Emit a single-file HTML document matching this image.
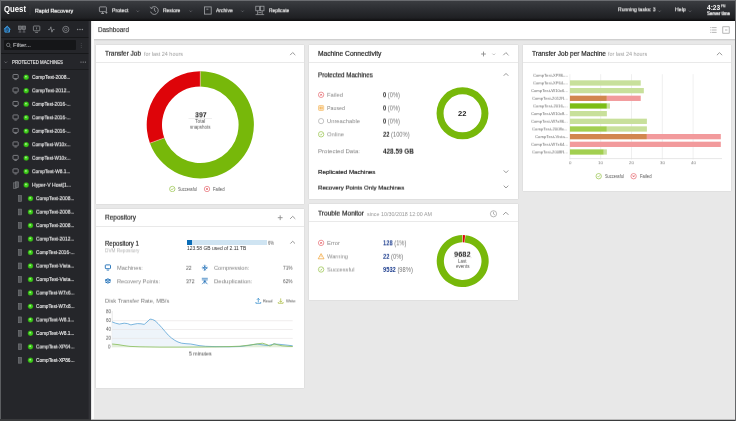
<!DOCTYPE html>
<html lang="en"><head><meta charset="utf-8"><title>Rapid Recovery Dashboard</title>
<style>
html,body{margin:0;padding:0;}
body{width:736px;height:421px;overflow:hidden;background:#e8e8e8;font-family:"Liberation Sans",sans-serif;position:relative;}
.t{filter:blur(0.25px);position:absolute;white-space:nowrap;line-height:1;transform-origin:0 50%;}
.card{background:#fff;box-shadow:0 0 1.2px rgba(0,0,0,0.16);}
.hd{border-bottom:1px solid #e9e9e9;box-sizing:border-box;}
svg{overflow:visible;filter:blur(0.2px);}
</style></head>
<body>
<header style="position:absolute;left:0px;top:0px;width:736px;height:21px;background:linear-gradient(#3c3e42,#2d2f33 40%,#1f2023 85%,#0d0d0e);"><div style="position:absolute;left:0px;top:0px;width:736px;height:1px;background:#6a6c70;"></div><div style="position:absolute;left:0px;top:0px;width:1px;height:21px;background:#66686c;"></div><span class="t" style="left:617.9px;top:7px;font-size:5.5px;color:#f2f2f2;transform:translateY(0.35px) rotate(0.03deg) scaleX(0.918);-webkit-text-stroke:0.14px;">Running tasks: 3</span><span class="t" style="left:674.9px;top:7px;font-size:5.5px;color:#f2f2f2;transform:translateY(0.35px) rotate(0.03deg) scaleX(0.946);-webkit-text-stroke:0.14px;">Help</span><span class="t" style="left:706.8px;top:4px;font-size:6.7px;color:#fff;transform:translateY(0.95px) rotate(0.03deg) scaleX(0.984);font-weight:bold;">4:23</span><span class="t" style="left:721px;top:5px;font-size:3.1px;color:#fff;transform:translateY(0.35px) rotate(0.03deg) scaleX(0.946);font-weight:bold;">PM</span><span class="t" style="left:706.5px;top:12px;font-size:4.7px;color:#fff;transform:translateY(0.25px) rotate(0.03deg) scaleX(0.957);-webkit-text-stroke:0.2px;">Server time</span><span class="t" style="left:34.5px;top:7px;font-size:6.2px;color:#fff;transform:translateY(0.7px) rotate(0.03deg) scaleX(0.866);-webkit-text-stroke:0.2px;">Rapid Recovery</span><span class="t" style="left:111.5px;top:8px;font-size:5.6px;color:#f2f2f2;transform:translateY(0.3px) rotate(0.03deg) scaleX(0.93);-webkit-text-stroke:0.14px;">Protect</span><span class="t" style="left:163.2px;top:8px;font-size:5.6px;color:#f2f2f2;transform:translateY(0.3px) rotate(0.03deg) scaleX(0.887);-webkit-text-stroke:0.14px;">Restore</span><span class="t" style="left:215.6px;top:8px;font-size:5.6px;color:#f2f2f2;transform:translateY(0.3px) rotate(0.03deg) scaleX(0.894);-webkit-text-stroke:0.14px;">Archive</span><span class="t" style="left:268.5px;top:8px;font-size:5.6px;color:#f2f2f2;transform:translateY(0.3px) rotate(0.03deg) scaleX(0.87);-webkit-text-stroke:0.14px;">Replicate</span><span class="t" style="left:3.9px;top:6px;font-size:8.2px;color:#fff;transform:translateY(0px) rotate(0.03deg) scaleX(0.947);font-weight:bold;">Quest</span><svg style="position:absolute;left:0px;top:0px" width="736" height="21" viewBox="0 0 736 21"><path d="M136.65 10.62L137.8 11.77L138.95 10.62" fill="none" stroke="#74767a" stroke-width="0.7"/><path d="M189.55 10.62L190.7 11.77L191.85 10.62" fill="none" stroke="#74767a" stroke-width="0.7"/><path d="M241.35 10.62L242.5 11.77L243.65 10.62" fill="none" stroke="#74767a" stroke-width="0.7"/><path d="M658.35 10.62L659.5 11.77L660.65 10.62" fill="none" stroke="#74767a" stroke-width="0.7"/><path d="M688.85 10.62L690 11.77L691.15 10.62" fill="none" stroke="#74767a" stroke-width="0.7"/><path d="M30 6V15" stroke="#3a3b3e" stroke-width="0.6"/><g fill="none" stroke="#a9abae" stroke-width="0.8"><rect x="99.4" y="6.9" width="7" height="4.8" rx="0.6"/><path d="M101.2 13.5H104M102.6 11.7V13.5M105.4 12.6H107.4M106.4 11.6V13.6"/></g><g fill="none" stroke="#a6a8ac" stroke-width="0.8"><path d="M151.2 8.2A3.9 3.9 0 1 1 150.6 11.6"/><path d="M154.4 8V10.6L156 11.6"/><path d="M150 6.8L151.1 8.6L153 7.8" stroke-width="0.6"/></g><g fill="none" stroke="#a6a8ac" stroke-width="0.8"><rect x="204.4" y="6.9" width="6.8" height="7.2"/><path d="M206.4 9.2H208.4"/></g><g fill="none" stroke="#a6a8ac" stroke-width="0.7"><rect x="255.8" y="6.2" width="3.6" height="4.6"/><rect x="260.4" y="6.2" width="3.6" height="4.6"/><path d="M257.6 10.8V14.6M262.2 10.8V14.6M255.6 14.6H264.2M258.4 12.6H261.4"/></g></svg></header>
<aside style="position:absolute;left:0px;top:21px;width:91px;height:400px;background:#25262a;box-shadow:inset 1px 0 0 #5c5e61;"><div style="position:absolute;left:1px;top:0px;width:90px;height:17px;background:#232428;border-bottom:1px solid #17181a;box-sizing:border-box;"></div><div style="position:absolute;left:4px;top:18.6px;width:72px;height:10.6px;background:#151618;border-radius:1px;"></div><span class="t" style="left:12.6px;top:21px;font-size:5.7px;color:#b4b5b8;transform:translateY(0.95px) rotate(0.03deg) scaleX(1.052);-webkit-text-stroke:0.14px;">Filter...</span><div style="position:absolute;left:1px;top:31.6px;width:89px;height:0.8px;background:#17181a;"></div><div style="position:absolute;left:1px;top:47.6px;width:88px;height:0.8px;background:#1b1c1e;"></div><span class="t" style="left:11.5px;top:39px;font-size:5.3px;color:#e8e8e8;transform:translateY(0.05px) rotate(0.03deg) scaleX(0.821);-webkit-text-stroke:0.14px;">PROTECTED MACHINES</span><span class="t" style="left:32px;top:53px;font-size:5.6px;color:#f0f0f0;transform:translateY(0.9px) rotate(0.03deg) scaleX(0.871);-webkit-text-stroke:0.12px;">CompTest-2008...</span><span class="t" style="left:32px;top:67px;font-size:5.6px;color:#f0f0f0;transform:translateY(0.38px) rotate(0.03deg) scaleX(0.871);-webkit-text-stroke:0.12px;">CompTest-2012...</span><span class="t" style="left:32px;top:80px;font-size:5.6px;color:#f0f0f0;transform:translateY(0.86px) rotate(0.03deg) scaleX(0.836);-webkit-text-stroke:0.12px;">CompTest-2016-...</span><span class="t" style="left:32px;top:94px;font-size:5.6px;color:#f0f0f0;transform:translateY(0.34px) rotate(0.03deg) scaleX(0.836);-webkit-text-stroke:0.12px;">CompTest-2016-...</span><span class="t" style="left:32px;top:107px;font-size:5.6px;color:#f0f0f0;transform:translateY(0.82px) rotate(0.03deg) scaleX(0.836);-webkit-text-stroke:0.12px;">CompTest-2016-...</span><span class="t" style="left:32px;top:121px;font-size:5.6px;color:#f0f0f0;transform:translateY(0.3px) rotate(0.03deg) scaleX(0.836);-webkit-text-stroke:0.12px;">CompTest-W10x...</span><span class="t" style="left:32px;top:134px;font-size:5.6px;color:#f0f0f0;transform:translateY(0.78px) rotate(0.03deg) scaleX(0.836);-webkit-text-stroke:0.12px;">CompTest-W10x...</span><span class="t" style="left:32px;top:148px;font-size:5.6px;color:#f0f0f0;transform:translateY(0.26px) rotate(0.03deg) scaleX(0.859);-webkit-text-stroke:0.12px;">CompTest-W8.1...</span><span class="t" style="left:32px;top:161px;font-size:5.6px;color:#f0f0f0;transform:translateY(0.74px) rotate(0.03deg) scaleX(0.908);-webkit-text-stroke:0.12px;">Hyper-V Host[1...</span><span class="t" style="left:36px;top:175px;font-size:5.6px;color:#f0f0f0;transform:translateY(0.22px) rotate(0.03deg) scaleX(0.871);-webkit-text-stroke:0.12px;">CompTest-2008...</span><span class="t" style="left:36px;top:188px;font-size:5.6px;color:#f0f0f0;transform:translateY(0.7px) rotate(0.03deg) scaleX(0.871);-webkit-text-stroke:0.12px;">CompTest-2008...</span><span class="t" style="left:36px;top:202px;font-size:5.6px;color:#f0f0f0;transform:translateY(0.18px) rotate(0.03deg) scaleX(0.871);-webkit-text-stroke:0.12px;">CompTest-2008...</span><span class="t" style="left:36px;top:215px;font-size:5.6px;color:#f0f0f0;transform:translateY(0.66px) rotate(0.03deg) scaleX(0.871);-webkit-text-stroke:0.12px;">CompTest-2012...</span><span class="t" style="left:36px;top:229px;font-size:5.6px;color:#f0f0f0;transform:translateY(0.14px) rotate(0.03deg) scaleX(0.836);-webkit-text-stroke:0.12px;">CompTest-2016-...</span><span class="t" style="left:36px;top:242px;font-size:5.6px;color:#f0f0f0;transform:translateY(0.62px) rotate(0.03deg) scaleX(0.873);-webkit-text-stroke:0.12px;">CompTest-Vista...</span><span class="t" style="left:36px;top:256px;font-size:5.6px;color:#f0f0f0;transform:translateY(0.1px) rotate(0.03deg) scaleX(0.873);-webkit-text-stroke:0.12px;">CompTest-Vista...</span><span class="t" style="left:36px;top:269px;font-size:5.6px;color:#f0f0f0;transform:translateY(0.58px) rotate(0.03deg) scaleX(0.836);-webkit-text-stroke:0.12px;">CompTest-W7x6...</span><span class="t" style="left:36px;top:283px;font-size:5.6px;color:#f0f0f0;transform:translateY(0.06px) rotate(0.03deg) scaleX(0.836);-webkit-text-stroke:0.12px;">CompTest-W7x8...</span><span class="t" style="left:36px;top:296px;font-size:5.6px;color:#f0f0f0;transform:translateY(0.54px) rotate(0.03deg) scaleX(0.859);-webkit-text-stroke:0.12px;">CompTest-W8.1...</span><span class="t" style="left:36px;top:310px;font-size:5.6px;color:#f0f0f0;transform:translateY(0.02px) rotate(0.03deg) scaleX(0.859);-webkit-text-stroke:0.12px;">CompTest-W8.1...</span><span class="t" style="left:36px;top:323px;font-size:5.6px;color:#f0f0f0;transform:translateY(0.5px) rotate(0.03deg) scaleX(0.847);-webkit-text-stroke:0.12px;">CompTest-XP64...</span><span class="t" style="left:36px;top:336px;font-size:5.6px;color:#f0f0f0;transform:translateY(0.98px) rotate(0.03deg) scaleX(0.847);-webkit-text-stroke:0.12px;">CompTest-XP86...</span><svg style="position:absolute;left:0px;top:0px" width="91" height="400" viewBox="0 0 91 400"><circle cx="26.2" cy="56.2" r="2.7" fill="#2f9a14"/><circle cx="26.2" cy="56.2" r="2.1" fill="#3fce1c"/><circle cx="25.9" cy="55.6" r="0.9" fill="#b6f59a" opacity="0.85"/><g fill="none" stroke="#8f9195" stroke-width="0.8"><rect x="13" y="53.5" width="5.2" height="4" rx="0.6"/><path d="M14.4 58.6h2.4"/></g><circle cx="26.2" cy="69.68" r="2.7" fill="#2f9a14"/><circle cx="26.2" cy="69.68" r="2.1" fill="#3fce1c"/><circle cx="25.9" cy="69.08" r="0.9" fill="#b6f59a" opacity="0.85"/><g fill="none" stroke="#8f9195" stroke-width="0.8"><rect x="13" y="66.98" width="5.2" height="4" rx="0.6"/><path d="M14.4 72.08h2.4"/></g><circle cx="26.2" cy="83.16" r="2.7" fill="#2f9a14"/><circle cx="26.2" cy="83.16" r="2.1" fill="#3fce1c"/><circle cx="25.9" cy="82.56" r="0.9" fill="#b6f59a" opacity="0.85"/><g fill="none" stroke="#8f9195" stroke-width="0.8"><rect x="13" y="80.46" width="5.2" height="4" rx="0.6"/><path d="M14.4 85.56h2.4"/></g><circle cx="26.2" cy="96.64" r="2.7" fill="#2f9a14"/><circle cx="26.2" cy="96.64" r="2.1" fill="#3fce1c"/><circle cx="25.9" cy="96.04" r="0.9" fill="#b6f59a" opacity="0.85"/><g fill="none" stroke="#8f9195" stroke-width="0.8"><rect x="13" y="93.94" width="5.2" height="4" rx="0.6"/><path d="M14.4 99.04h2.4"/></g><circle cx="26.2" cy="110.12" r="2.7" fill="#2f9a14"/><circle cx="26.2" cy="110.12" r="2.1" fill="#3fce1c"/><circle cx="25.9" cy="109.52" r="0.9" fill="#b6f59a" opacity="0.85"/><g fill="none" stroke="#8f9195" stroke-width="0.8"><rect x="13" y="107.42" width="5.2" height="4" rx="0.6"/><path d="M14.4 112.52h2.4"/></g><circle cx="26.2" cy="123.6" r="2.7" fill="#2f9a14"/><circle cx="26.2" cy="123.6" r="2.1" fill="#3fce1c"/><circle cx="25.9" cy="123" r="0.9" fill="#b6f59a" opacity="0.85"/><g fill="none" stroke="#8f9195" stroke-width="0.8"><rect x="13" y="120.9" width="5.2" height="4" rx="0.6"/><path d="M14.4 126h2.4"/></g><circle cx="26.2" cy="137.08" r="2.7" fill="#2f9a14"/><circle cx="26.2" cy="137.08" r="2.1" fill="#3fce1c"/><circle cx="25.9" cy="136.48" r="0.9" fill="#b6f59a" opacity="0.85"/><g fill="none" stroke="#8f9195" stroke-width="0.8"><rect x="13" y="134.38" width="5.2" height="4" rx="0.6"/><path d="M14.4 139.48h2.4"/></g><circle cx="26.2" cy="150.56" r="2.7" fill="#2f9a14"/><circle cx="26.2" cy="150.56" r="2.1" fill="#3fce1c"/><circle cx="25.9" cy="149.96" r="0.9" fill="#b6f59a" opacity="0.85"/><g fill="none" stroke="#8f9195" stroke-width="0.8"><rect x="13" y="147.86" width="5.2" height="4" rx="0.6"/><path d="M14.4 152.96h2.4"/></g><circle cx="26.2" cy="164.04" r="2.7" fill="#2f9a14"/><circle cx="26.2" cy="164.04" r="2.1" fill="#3fce1c"/><circle cx="25.9" cy="163.44" r="0.9" fill="#b6f59a" opacity="0.85"/><rect x="13.6" y="161.84" width="3" height="5.6" fill="#3c3d41" stroke="#77797d" stroke-width="0.6"/><rect x="15.4" y="160.84" width="3" height="5.8" fill="#55575b" stroke="#808286" stroke-width="0.6"/><circle cx="30.5" cy="177.52" r="2.7" fill="#2f9a14"/><circle cx="30.5" cy="177.52" r="2.1" fill="#3fce1c"/><circle cx="30.2" cy="176.92" r="0.9" fill="#b6f59a" opacity="0.85"/><rect x="18.4" y="174.62" width="3.2" height="5.8" fill="#55575b" stroke="#77797d" stroke-width="0.6"/><circle cx="30.5" cy="191" r="2.7" fill="#2f9a14"/><circle cx="30.5" cy="191" r="2.1" fill="#3fce1c"/><circle cx="30.2" cy="190.4" r="0.9" fill="#b6f59a" opacity="0.85"/><rect x="18.4" y="188.1" width="3.2" height="5.8" fill="#55575b" stroke="#77797d" stroke-width="0.6"/><circle cx="30.5" cy="204.48" r="2.7" fill="#2f9a14"/><circle cx="30.5" cy="204.48" r="2.1" fill="#3fce1c"/><circle cx="30.2" cy="203.88" r="0.9" fill="#b6f59a" opacity="0.85"/><rect x="18.4" y="201.58" width="3.2" height="5.8" fill="#55575b" stroke="#77797d" stroke-width="0.6"/><circle cx="30.5" cy="217.96" r="2.7" fill="#2f9a14"/><circle cx="30.5" cy="217.96" r="2.1" fill="#3fce1c"/><circle cx="30.2" cy="217.36" r="0.9" fill="#b6f59a" opacity="0.85"/><rect x="18.4" y="215.06" width="3.2" height="5.8" fill="#55575b" stroke="#77797d" stroke-width="0.6"/><circle cx="30.5" cy="231.44" r="2.7" fill="#2f9a14"/><circle cx="30.5" cy="231.44" r="2.1" fill="#3fce1c"/><circle cx="30.2" cy="230.84" r="0.9" fill="#b6f59a" opacity="0.85"/><rect x="18.4" y="228.54" width="3.2" height="5.8" fill="#55575b" stroke="#77797d" stroke-width="0.6"/><circle cx="30.5" cy="244.92" r="2.7" fill="#2f9a14"/><circle cx="30.5" cy="244.92" r="2.1" fill="#3fce1c"/><circle cx="30.2" cy="244.32" r="0.9" fill="#b6f59a" opacity="0.85"/><rect x="18.4" y="242.02" width="3.2" height="5.8" fill="#55575b" stroke="#77797d" stroke-width="0.6"/><circle cx="30.5" cy="258.4" r="2.7" fill="#2f9a14"/><circle cx="30.5" cy="258.4" r="2.1" fill="#3fce1c"/><circle cx="30.2" cy="257.8" r="0.9" fill="#b6f59a" opacity="0.85"/><rect x="18.4" y="255.5" width="3.2" height="5.8" fill="#55575b" stroke="#77797d" stroke-width="0.6"/><circle cx="30.5" cy="271.88" r="2.7" fill="#2f9a14"/><circle cx="30.5" cy="271.88" r="2.1" fill="#3fce1c"/><circle cx="30.2" cy="271.28" r="0.9" fill="#b6f59a" opacity="0.85"/><rect x="18.4" y="268.98" width="3.2" height="5.8" fill="#55575b" stroke="#77797d" stroke-width="0.6"/><circle cx="30.5" cy="285.36" r="2.7" fill="#2f9a14"/><circle cx="30.5" cy="285.36" r="2.1" fill="#3fce1c"/><circle cx="30.2" cy="284.76" r="0.9" fill="#b6f59a" opacity="0.85"/><rect x="18.4" y="282.46" width="3.2" height="5.8" fill="#55575b" stroke="#77797d" stroke-width="0.6"/><circle cx="30.5" cy="298.84" r="2.7" fill="#2f9a14"/><circle cx="30.5" cy="298.84" r="2.1" fill="#3fce1c"/><circle cx="30.2" cy="298.24" r="0.9" fill="#b6f59a" opacity="0.85"/><rect x="18.4" y="295.94" width="3.2" height="5.8" fill="#55575b" stroke="#77797d" stroke-width="0.6"/><circle cx="30.5" cy="312.32" r="2.7" fill="#2f9a14"/><circle cx="30.5" cy="312.32" r="2.1" fill="#3fce1c"/><circle cx="30.2" cy="311.72" r="0.9" fill="#b6f59a" opacity="0.85"/><rect x="18.4" y="309.42" width="3.2" height="5.8" fill="#55575b" stroke="#77797d" stroke-width="0.6"/><circle cx="30.5" cy="325.8" r="2.7" fill="#2f9a14"/><circle cx="30.5" cy="325.8" r="2.1" fill="#3fce1c"/><circle cx="30.2" cy="325.2" r="0.9" fill="#b6f59a" opacity="0.85"/><rect x="18.4" y="322.9" width="3.2" height="5.8" fill="#55575b" stroke="#77797d" stroke-width="0.6"/><circle cx="30.5" cy="339.28" r="2.7" fill="#2f9a14"/><circle cx="30.5" cy="339.28" r="2.1" fill="#3fce1c"/><circle cx="30.2" cy="338.68" r="0.9" fill="#b6f59a" opacity="0.85"/><rect x="18.4" y="336.38" width="3.2" height="5.8" fill="#55575b" stroke="#77797d" stroke-width="0.6"/><rect x="88.6" y="0" width="2.4" height="400" fill="#323337"/><g fill="#1f5688" stroke="#3d9be0" stroke-width="0.95" stroke-linejoin="round"><path d="M4.9 7.9V11.1H9.5V7.9L7.2 5.6Z"/><path d="M3.9 8.3L7.2 5.1L10.5 8.3" fill="none"/><path d="M6.5 11.1V9.3H7.9V11.1" fill="#25262a" stroke-width="0.5"/></g><g fill="#5d5f63" stroke="#8d8f93" stroke-width="0.6"><rect x="18.4" y="5" width="3.2" height="3.4"/><rect x="22.4" y="5" width="3.2" height="3.4"/><path d="M20 8.4V10.6M24 8.4V10.6M18.6 11H21.4M22.6 11H25.4" fill="none"/></g><g fill="none" stroke="#8d8f93" stroke-width="0.8"><rect x="33.4" y="5" width="6.4" height="4.8" rx="0.6"/><path d="M35.2 11.4H38M36.6 6.4V8.4" /></g><path d="M48 8.6H49.8L50.9 5.8L51.9 11.2L52.9 8.6H54.6" fill="none" stroke="#8d8f93" stroke-width="0.8"/><g fill="none" stroke="#8d8f93" stroke-width="0.8"><circle cx="65.8" cy="8.4" r="3.1"/><circle cx="65.8" cy="8.4" r="1.3" stroke-width="0.6"/></g><circle cx="77.6" cy="8.5" r="0.75" fill="#8d8f93"/><circle cx="80" cy="8.5" r="0.75" fill="#8d8f93"/><circle cx="82.4" cy="8.5" r="0.75" fill="#8d8f93"/><g fill="none" stroke="#8d8f93" stroke-width="0.7"><circle cx="8.2" cy="23.9" r="1.7"/><path d="M9.5 25.2L10.9 26.6"/></g><circle cx="81.2" cy="22.6" r="0.45" fill="#6e7074"/><circle cx="81.2" cy="24.4" r="0.45" fill="#6e7074"/><circle cx="81.2" cy="26.2" r="0.45" fill="#6e7074"/><path d="M4.5 40.55L5.8 41.85L7.1 40.55" fill="none" stroke="#8d8f93" stroke-width="0.6"/><circle cx="81" cy="41.1" r="0.65" fill="#8d8f93"/><circle cx="83.2" cy="41.1" r="0.65" fill="#8d8f93"/><circle cx="85.4" cy="41.1" r="0.65" fill="#8d8f93"/></svg></aside>
<div style="position:absolute;left:91px;top:21px;width:644px;height:18px;background:#fff;box-shadow:0 1px 0 #cfcfcf,0 2px 0 #dedede;"><span class="t" style="left:7px;top:6px;font-size:6.6px;color:#333;transform:translateY(0.1px) rotate(0.03deg) scaleX(0.96);-webkit-text-stroke:0.15px;">Dashboard</span><svg style="position:absolute;left:0px;top:0px" width="644" height="19" viewBox="0 0 644 19"><g transform="translate(-91,-21)"><g fill="none" stroke="#999" stroke-width="0.7"><path d="M711.6 27.6H716.6M711.6 30H716.6M711.6 32.4H716.6"/><path d="M710 27.6h0.8M710 30h0.8M710 32.4h0.8"/></g><g fill="none" stroke="#999" stroke-width="0.7"><rect x="722.8" y="26.8" width="6.4" height="6.4"/><path d="M725 30H727.4"/></g></g></svg></div>
<section class="card" style="position:absolute;left:96px;top:45px;width:208px;height:159px;"><div class="hd" style="position:absolute;left:0px;top:0px;width:208px;height:18px;"></div><span class="t" style="left:8.9px;top:5px;font-size:6.9px;color:#222;transform:translateY(0.75px) rotate(0.03deg) scaleX(0.938);-webkit-text-stroke:0.18px;">Transfer Job</span><span class="t" style="left:47.5px;top:6px;font-size:5.3px;color:#999;transform:translateY(0.85px) rotate(0.03deg) scaleX(1.026);">for last 24 hours</span><span class="t" style="left:98.55px;top:66px;font-size:7px;color:#222;transform:translateY(0.3px) rotate(0.03deg) scaleX(1.002);font-weight:bold;">397</span><span class="t" style="left:99.2px;top:74px;font-size:4.7px;color:#555;transform:translateY(0.85px) rotate(0.03deg) scaleX(1.048);">Total</span><span class="t" style="left:94.15px;top:80px;font-size:4.7px;color:#555;transform:translateY(0.75px) rotate(0.03deg) scaleX(0.957);">snapshots</span><span class="t" style="left:82.4px;top:142px;font-size:4.7px;color:#555;transform:translateY(0.95px) rotate(0.03deg) scaleX(0.836);">Successful</span><span class="t" style="left:117.1px;top:142px;font-size:4.7px;color:#555;transform:translateY(0.95px) rotate(0.03deg) scaleX(0.906);">Failed</span><svg style="position:absolute;left:0px;top:0px" width="208" height="159" viewBox="0 0 208 159"><path d="M104.3 26.2A53.6 53.6 0 1 1 53.93 98.13L68.31 92.9A38.3 38.3 0 1 0 104.3 41.5Z" fill="#77b80a"/><path d="M53.93 98.13A53.6 53.6 0 0 1 104.3 26.2L104.3 41.5A38.3 38.3 0 0 0 68.31 92.9Z" fill="#de0409"/><path d="M104.3 41.5L104.3 26.2" stroke="#f3e9c8" stroke-width="0.5"/><path d="M68.31 92.9L53.93 98.13" stroke="#f3e9c8" stroke-width="0.5"/><path d="M92.5 73.5H116" stroke="#ddd" stroke-width="0.5"/><circle cx="76.3" cy="144" r="2.7" fill="none" stroke="#84b82a" stroke-width="0.6"/><path d="M75.2 144.1L76 144.9L77.5 143.1" fill="none" stroke="#84b82a" stroke-width="0.6"/><circle cx="111" cy="144" r="2.7" fill="none" stroke="#e2535a" stroke-width="0.6"/><path d="M110.15 143.15L111.85 144.85M111.85 143.15L110.15 144.85" fill="none" stroke="#e2535a" stroke-width="0.75"/><path d="M194.1 10.1L196.7 7.5L199.3 10.1" fill="none" stroke="#8c8c8c" stroke-width="0.9"/></svg></section>
<section class="card" style="position:absolute;left:96px;top:209px;width:208px;height:179px;"><div class="hd" style="position:absolute;left:0px;top:0px;width:208px;height:18px;"></div><span class="t" style="left:8.8px;top:5px;font-size:6.9px;color:#222;transform:translateY(0.65px) rotate(0.03deg) scaleX(0.94);-webkit-text-stroke:0.18px;">Repository</span><span class="t" style="left:8.8px;top:31px;font-size:6.4px;color:#222;transform:translateY(0.8px) rotate(0.03deg) scaleX(0.946);-webkit-text-stroke:0.18px;">Repository 1</span><span class="t" style="left:8.8px;top:40px;font-size:4.9px;color:#b2b2b2;transform:translateY(0.35px) rotate(0.03deg) scaleX(0.964);">DVM Repository</span><div style="position:absolute;left:90.7px;top:30.6px;width:80.3px;height:5.4px;background:#cfe4f2;"><div style="position:absolute;left:0px;top:0px;width:5.7px;height:5.4px;background:#0b6db7;"></div></div><span class="t" style="left:172.3px;top:31px;font-size:5.2px;color:#555;transform:translateY(0.8px) rotate(0.03deg) scaleX(0.798);">6%</span><span class="t" style="left:90.7px;top:38px;font-size:4.8px;color:#333;transform:translateY(0px) rotate(0.03deg) scaleX(1.029);">123.58 GB used of 2.11 TB</span><span class="t" style="left:21.4px;top:56px;font-size:5.8px;color:#808080;transform:translateY(0.8px) rotate(0.03deg) scaleX(0.976);">Machines:</span><span class="t" style="left:21.4px;top:70px;font-size:5.8px;color:#808080;transform:translateY(0.3px) rotate(0.03deg) scaleX(0.981);">Recovery Points:</span><span class="t" style="left:89.8px;top:56px;font-size:5.6px;color:#555;transform:translateY(0.8px) rotate(0.03deg) scaleX(0.899);">22</span><span class="t" style="left:89.8px;top:70px;font-size:5.6px;color:#555;transform:translateY(0.3px) rotate(0.03deg) scaleX(0.91);">372</span><span class="t" style="left:118.2px;top:56px;font-size:5.8px;color:#808080;transform:translateY(0.8px) rotate(0.03deg) scaleX(0.984);">Compression:</span><span class="t" style="left:118.2px;top:70px;font-size:5.8px;color:#808080;transform:translateY(0.3px) rotate(0.03deg) scaleX(1.042);">Deduplication:</span><span class="t" style="left:186.7px;top:56px;font-size:5.4px;color:#555;transform:translateY(0.7px) rotate(0.03deg) scaleX(0.888);">71%</span><span class="t" style="left:186.7px;top:70px;font-size:5.4px;color:#555;transform:translateY(0.2px) rotate(0.03deg) scaleX(0.888);">62%</span><span class="t" style="left:8.6px;top:89px;font-size:5.7px;color:#777;transform:translateY(0.75px) rotate(0.03deg) scaleX(1.018);">Disk Transfer Rate, MB/s</span><span class="t" style="left:167.3px;top:90px;font-size:4.2px;color:#444;transform:translateY(0.4px) rotate(0.03deg) scaleX(0.946);">Read</span><span class="t" style="left:190px;top:90px;font-size:4.2px;color:#444;transform:translateY(0.4px) rotate(0.03deg) scaleX(0.998);">Write</span><span class="t" style="left:9.79px;top:101px;font-size:4.5px;color:#555;transform:translateY(0.25px) rotate(0.03deg) scaleX(1);">80</span><span class="t" style="left:9.79px;top:110px;font-size:4.5px;color:#555;transform:translateY(0.05px) rotate(0.03deg) scaleX(1);">60</span><span class="t" style="left:9.79px;top:118px;font-size:4.5px;color:#555;transform:translateY(0.85px) rotate(0.03deg) scaleX(1);">40</span><span class="t" style="left:9.79px;top:127px;font-size:4.5px;color:#555;transform:translateY(0.75px) rotate(0.03deg) scaleX(1);">20</span><span class="t" style="left:12.3px;top:136px;font-size:4.5px;color:#555;transform:translateY(0.55px) rotate(0.03deg) scaleX(1);">0</span><span class="t" style="left:93.25px;top:143px;font-size:4.8px;color:#444;transform:translateY(0.5px) rotate(0.03deg) scaleX(1.081);">5 minutes</span><svg style="position:absolute;left:0px;top:0px" width="208" height="179" viewBox="0 0 208 179"><path d="M112.2 311V347.4" transform="translate(-96,-209)" stroke="#d8d8d8" stroke-width="0.6"/><path d="M16.1 112.9 L19.5 114.2 L23.3 115.1 L28.2 114.2 L31.5 114.6 L34.9 115.9 L38 115.2 L41.5 114.6 L45 114.8 L48.2 115.4 L51 113 L54 110.1 L56.5 110.5 L59 111.7 L62 114.5 L65.6 118.4 L69 122.4 L72.3 126.2 L75.5 129 L78.9 131.4 L82 133 L85.6 134.2 L90 134.7 L94.7 135 L99 135.8 L103 136.6 L109.7 137.3 L119 137.6 L133 137.8 L144 137.5 L152 136.5 L157 135.6 L161.5 135.1 L166 135.8 L172 136.6 L178 135 L183 135.3 L190 136 L196.7 136.8 L196.7 138.3 L16.1 138.3Z" fill="#ecf3f9" opacity="0.9"/><path d="M16.1 135 L22 135.6 L28 136.6 L34 137.4 L44 137.8 L64 138.1 L84 138.1 L104 138 L119 137.9 L133 137.6 L144 137.2 L154 136 L161 134.9 L166.5 134.2 L171 135.6 L174 137 L176 136 L178 134.7 L181 135.6 L186 136.8 L192 137.3 L196.7 137.5 L196.7 138.3 L16.1 138.3Z" fill="#d9e9c2" opacity="0.6"/><path d="M112.3 320.7H292.7" transform="translate(-96,-209)" stroke="#e6e2e2" stroke-width="0.6"/><path d="M112.3 329.5H292.7" transform="translate(-96,-209)" stroke="#e6e2e2" stroke-width="0.6"/><path d="M112.3 338.4H292.7" transform="translate(-96,-209)" stroke="#e6e2e2" stroke-width="0.6"/><path d="M16.1 112.9 L19.5 114.2 L23.3 115.1 L28.2 114.2 L31.5 114.6 L34.9 115.9 L38 115.2 L41.5 114.6 L45 114.8 L48.2 115.4 L51 113 L54 110.1 L56.5 110.5 L59 111.7 L62 114.5 L65.6 118.4 L69 122.4 L72.3 126.2 L75.5 129 L78.9 131.4 L82 133 L85.6 134.2 L90 134.7 L94.7 135 L99 135.8 L103 136.6 L109.7 137.3 L119 137.6 L133 137.8 L144 137.5 L152 136.5 L157 135.6 L161.5 135.1 L166 135.8 L172 136.6 L178 135 L183 135.3 L190 136 L196.7 136.8" fill="none" stroke="#5aa3d6" stroke-width="0.8"/><path d="M16.1 135 L22 135.6 L28 136.6 L34 137.4 L44 137.8 L64 138.1 L84 138.1 L104 138 L119 137.9 L133 137.6 L144 137.2 L154 136 L161 134.9 L166.5 134.2 L171 135.6 L174 137 L176 136 L178 134.7 L181 135.6 L186 136.8 L192 137.3 L196.7 137.5" fill="none" stroke="#86bd58" stroke-width="0.8"/><path d="M181.8 8.7H186.6M184.2 6.3V11.1" fill="none" stroke="#8c8c8c" stroke-width="0.9"/><path d="M194.1 9.9L196.7 7.3L199.3 9.9" fill="none" stroke="#8c8c8c" stroke-width="0.9"/><path d="M194.4 34.55L196.7 32.25L199 34.55" fill="none" stroke="#8c8c8c" stroke-width="0.9"/><g transform="translate(-96,-209)" fill="none" stroke="#1a6cb6" stroke-width="0.9"><rect x="105.3" y="264.9" width="5.2" height="3.8" rx="0.7"/><path d="M106.7 270.1H109.1" stroke-width="0.8"/></g><g transform="translate(-96,-209)" fill="none" stroke="#1a6cb6" stroke-width="0.9"><path d="M105.1 280.1L107.9 278.8L110.7 280.1L107.9 281.4Z" fill="#1a6cb6" fill-opacity="0.35"/><path d="M105.1 281.8L107.9 283.1L110.7 281.8" stroke-width="1"/></g><g transform="translate(-96,-209)" fill="none" stroke="#1a6cb6" stroke-width="0.9"><path d="M204.8 264.7V271M201.8 267.85H207.8M203.7 265.6L204.8 266.7L205.9 265.6M203.7 270.1L204.8 269L205.9 270.1M202.7 266.75L203.8 267.85L202.7 268.95M206.9 266.75L205.8 267.85L206.9 268.95" stroke-width="0.7"/></g><g transform="translate(-96,-209)" fill="none" stroke="#1a6cb6" stroke-width="0.9"><path d="M201.8 278.3H207.8M201.8 279.9H207.8" stroke-width="0.7"/><path d="M202.2 284.2L204.8 281.2L207.4 284.2M204.8 280.2V283.6M203.4 281.2L206.2 281.2" stroke-width="0.7"/></g><g transform="translate(-96,-209)" fill="none" stroke="#2b86c8" stroke-width="0.7"><path d="M258.3 302.4V298.4M256.9 299.8L258.3 298.3L259.7 299.8M255.9 302V303.3H260.7V302"/></g><g transform="translate(-96,-209)" fill="none" stroke="#a8b93a" stroke-width="0.7"><path d="M280.7 298.4V302.2M279.3 300.8L280.7 302.3L282.1 300.8M278.3 302V303.3H283.1V302"/></g></svg></section>
<section class="card" style="position:absolute;left:309px;top:45px;width:209px;height:154px;"><div class="hd" style="position:absolute;left:0px;top:0px;width:209px;height:18px;"></div><span class="t" style="left:9.3px;top:5px;font-size:6.8px;color:#222;transform:translateY(0.9px) rotate(0.03deg) scaleX(0.982);-webkit-text-stroke:0.18px;">Machine Connectivity</span><span class="t" style="left:9.3px;top:27px;font-size:6.3px;color:#222;transform:translateY(0.35px) rotate(0.03deg) scaleX(0.984);-webkit-text-stroke:0.18px;">Protected Machines</span><span class="t" style="left:18.2px;top:47px;font-size:5.4px;color:#8a8a8a;transform:translateY(0.8px) rotate(0.03deg) scaleX(1.088);">Failed</span><span class="t" style="left:73.8px;top:47px;font-size:6.3px;color:#777;transform:translateY(0.25px) rotate(0.03deg) scaleX(0.915);"><b style="color:#222;margin-right:0.28em">0</b>(0%)</span><span class="t" style="left:18.2px;top:60px;font-size:5.4px;color:#8a8a8a;transform:translateY(1px) rotate(0.03deg) scaleX(0.983);">Paused</span><span class="t" style="left:73.8px;top:60px;font-size:6.3px;color:#777;transform:translateY(0.45px) rotate(0.03deg) scaleX(0.915);"><b style="color:#222;margin-right:0.28em">0</b>(0%)</span><span class="t" style="left:18.2px;top:74px;font-size:5.4px;color:#8a8a8a;transform:translateY(0.1px) rotate(0.03deg) scaleX(1.078);">Unreachable</span><span class="t" style="left:73.8px;top:73px;font-size:6.3px;color:#777;transform:translateY(0.55px) rotate(0.03deg) scaleX(0.915);"><b style="color:#222;margin-right:0.28em">0</b>(0%)</span><span class="t" style="left:18.2px;top:87px;font-size:5.4px;color:#8a8a8a;transform:translateY(0.3px) rotate(0.03deg) scaleX(1.089);">Online</span><span class="t" style="left:73.8px;top:86px;font-size:6.3px;color:#777;transform:translateY(0.75px) rotate(0.03deg) scaleX(0.915);"><b style="color:#222;margin-right:0.28em">22</b>(100%)</span><span class="t" style="left:9.3px;top:104px;font-size:5.4px;color:#808080;transform:translateY(0.2px) rotate(0.03deg) scaleX(1.119);">Protected Data:</span><span class="t" style="left:73.8px;top:103px;font-size:6.5px;color:#222;transform:translateY(0.65px) rotate(0.03deg) scaleX(0.98);font-weight:bold;">428.59 GB</span><span class="t" style="left:9.3px;top:123px;font-size:6.2px;color:#222;transform:translateY(0.9px) rotate(0.03deg) scaleX(0.999);-webkit-text-stroke:0.18px;">Replicated Machines</span><span class="t" style="left:9.3px;top:139px;font-size:6.2px;color:#222;transform:translateY(0.6px) rotate(0.03deg) scaleX(0.984);-webkit-text-stroke:0.18px;">Recovery Points Only Machines</span><span class="t" style="left:149.3px;top:64px;font-size:7.4px;color:#222;transform:translateY(1px) rotate(0.03deg) scaleX(1.02);font-weight:bold;">22</span><svg style="position:absolute;left:0px;top:0px" width="209" height="154" viewBox="0 0 209 154"><circle cx="153.5" cy="68.3" r="22.45" fill="none" stroke="#77b80a" stroke-width="7"/><path d="M172.1 9H176.9M174.5 6.6V11.4" fill="none" stroke="#8c8c8c" stroke-width="0.9"/><path d="M183.4 8.6L184.8 10L186.2 8.6" fill="none" stroke="#aaa" stroke-width="0.7"/><path d="M194.3 10.2L196.9 7.6L199.5 10.2" fill="none" stroke="#8c8c8c" stroke-width="0.9"/><path d="M194.7 30.75L197 28.45L199.3 30.75" fill="none" stroke="#8c8c8c" stroke-width="0.9"/><path d="M194.7 125.45L197 127.75L199.3 125.45" fill="none" stroke="#8c8c8c" stroke-width="0.9"/><path d="M194.7 140.65L197 142.95L199.3 140.65" fill="none" stroke="#8c8c8c" stroke-width="0.9"/><circle cx="12.1" cy="49.8" r="2.7" fill="none" stroke="#e2535a" stroke-width="0.6"/><path d="M11.25 48.95L12.95 50.65M12.95 48.95L11.25 50.65" fill="none" stroke="#e2535a" stroke-width="0.75"/><g transform="translate(-309,-45)" fill="#fdebd0" stroke="#f3a83c" stroke-width="0.5"><rect x="318.5" y="105.5" width="5.2" height="5" rx="0.9"/><path d="M320.2 106.6V109.4M322 106.6V109.4" stroke-width="0.9" stroke="#f0a030"/></g><circle cx="12.1" cy="76.1" r="2.6" fill="none" stroke="#aaa" stroke-width="0.7"/><circle cx="12.1" cy="89.3" r="2.7" fill="none" stroke="#84b82a" stroke-width="0.6"/><path d="M11 89.4L11.8 90.2L13.3 88.4" fill="none" stroke="#84b82a" stroke-width="0.6"/></svg></section>
<section class="card" style="position:absolute;left:309px;top:204px;width:209px;height:96px;"><div class="hd" style="position:absolute;left:0px;top:0px;width:209px;height:18px;"></div><span class="t" style="left:9.3px;top:6px;font-size:6.8px;color:#222;transform:translateY(0.6px) rotate(0.03deg) scaleX(0.971);-webkit-text-stroke:0.18px;">Trouble Monitor</span><span class="t" style="left:57.8px;top:8px;font-size:5.1px;color:#999;transform:translateY(0.05px) rotate(0.03deg) scaleX(1.052);">since 10/30/2018 12:00 AM</span><span class="t" style="left:18.2px;top:36px;font-size:5.4px;color:#8a8a8a;transform:translateY(0.9px) rotate(0.03deg) scaleX(1.083);">Error</span><span class="t" style="left:73.8px;top:36px;font-size:6.3px;color:#777;transform:translateY(0.35px) rotate(0.03deg) scaleX(0.915);"><b style="color:#1f3f8f;margin-right:0.28em">128</b>(1%)</span><span class="t" style="left:18.2px;top:50px;font-size:5.4px;color:#8a8a8a;transform:translateY(0.4px) rotate(0.03deg) scaleX(1.055);">Warning</span><span class="t" style="left:73.8px;top:49px;font-size:6.3px;color:#777;transform:translateY(0.85px) rotate(0.03deg) scaleX(0.915);"><b style="color:#1f3f8f;margin-right:0.28em">22</b>(0%)</span><span class="t" style="left:18.2px;top:63px;font-size:5.4px;color:#8a8a8a;transform:translateY(0.5px) rotate(0.03deg) scaleX(1.053);">Successful</span><span class="t" style="left:73.8px;top:62px;font-size:6.3px;color:#777;transform:translateY(0.95px) rotate(0.03deg) scaleX(0.915);"><b style="color:#1f3f8f;margin-right:0.28em">9532</b>(98%)</span><span class="t" style="left:145.3px;top:46px;font-size:7px;color:#222;transform:translateY(0.7px) rotate(0.03deg) scaleX(1.066);font-weight:bold;">9682</span><span class="t" style="left:149.3px;top:55px;font-size:4.7px;color:#555;transform:translateY(0.85px) rotate(0.03deg) scaleX(0.968);">Last</span><span class="t" style="left:146.85px;top:60px;font-size:4.7px;color:#555;transform:translateY(0.95px) rotate(0.03deg) scaleX(0.975);">events</span><svg style="position:absolute;left:0px;top:0px" width="209" height="96" viewBox="0 0 209 96"><path d="M156.51 31.25A26 26 0 1 1 153.34 31.1L153.44 38.3A18.8 18.8 0 1 0 155.73 38.41Z" fill="#77b80a"/><path d="M153.88 31.1A26 26 0 0 1 156.06 31.21L155.4 38.38A18.8 18.8 0 0 0 153.83 38.3Z" fill="#de0409"/><path d="M144 53.7H163" stroke="#ddd" stroke-width="0.5"/><g transform="translate(-309,-204)" fill="none" stroke="#999" stroke-width="0.7"><circle cx="493.5" cy="213.8" r="3.1"/><path d="M493.5 211.8V214L494.9 214.9"/></g><path d="M194.2 10.8L196.8 8.2L199.4 10.8" fill="none" stroke="#8c8c8c" stroke-width="0.9"/><circle cx="12.1" cy="38.9" r="2.7" fill="none" stroke="#e2535a" stroke-width="0.6"/><path d="M11.25 38.05L12.95 39.75M12.95 38.05L11.25 39.75" fill="none" stroke="#e2535a" stroke-width="0.75"/><g transform="translate(-309,-204)" fill="none" stroke="#f0a030" stroke-width="0.7"><path d="M321.1 253.6L324 258.8H318.2Z"/><path d="M321.1 255.4V257.2" stroke-width="0.6"/></g><circle cx="12.1" cy="65.5" r="2.7" fill="none" stroke="#84b82a" stroke-width="0.6"/><path d="M11 65.6L11.8 66.4L13.3 64.6" fill="none" stroke="#84b82a" stroke-width="0.6"/></svg></section>
<section class="card" style="position:absolute;left:523px;top:45px;width:208px;height:146px;"><div class="hd" style="position:absolute;left:0px;top:0px;width:208px;height:18px;"></div><span class="t" style="left:9px;top:5px;font-size:6.8px;color:#222;transform:translateY(0.9px) rotate(0.03deg) scaleX(0.958);-webkit-text-stroke:0.18px;">Transfer Job per Machine</span><span class="t" style="left:85px;top:6px;font-size:5.3px;color:#999;transform:translateY(0.85px) rotate(0.03deg) scaleX(1.031);">for last 24 hours</span><span class="t" style="left:45.68px;top:116px;font-size:4.4px;color:#777;transform:translateY(0.2px) rotate(0.03deg) scaleX(1);">0</span><span class="t" style="left:75.25px;top:116px;font-size:4.4px;color:#777;transform:translateY(0.2px) rotate(0.03deg) scaleX(1);">10</span><span class="t" style="left:106.05px;top:116px;font-size:4.4px;color:#777;transform:translateY(0.2px) rotate(0.03deg) scaleX(1);">20</span><span class="t" style="left:136.85px;top:116px;font-size:4.4px;color:#777;transform:translateY(0.2px) rotate(0.03deg) scaleX(1);">30</span><span class="t" style="left:167.65px;top:116px;font-size:4.4px;color:#777;transform:translateY(0.2px) rotate(0.03deg) scaleX(1);">40</span><span class="t" style="left:9.9px;top:28px;font-size:4.3px;color:#666;transform:translateY(0.75px) rotate(0.03deg) scaleX(0.964);">CompTest-XP86-...</span><span class="t" style="left:9.9px;top:36px;font-size:4.3px;color:#666;transform:translateY(0.42px) rotate(0.03deg) scaleX(0.964);">CompTest-XP64-...</span><span class="t" style="left:8.1px;top:44px;font-size:4.3px;color:#666;transform:translateY(0.09px) rotate(0.03deg) scaleX(0.975);">CompTest-W10x6...</span><span class="t" style="left:9.1px;top:51px;font-size:4.3px;color:#666;transform:translateY(0.76px) rotate(0.03deg) scaleX(0.966);">CompTest-2012R...</span><span class="t" style="left:10.2px;top:59px;font-size:4.3px;color:#666;transform:translateY(0.43px) rotate(0.03deg) scaleX(0.981);">CompTest-2016-...</span><span class="t" style="left:8.1px;top:67px;font-size:4.3px;color:#666;transform:translateY(0.1px) rotate(0.03deg) scaleX(0.975);">CompTest-W10x8...</span><span class="t" style="left:8.3px;top:74px;font-size:4.3px;color:#666;transform:translateY(0.77px) rotate(0.03deg) scaleX(0.969);">CompTest-W7x86...</span><span class="t" style="left:9.4px;top:82px;font-size:4.3px;color:#666;transform:translateY(0.44px) rotate(0.03deg) scaleX(0.984);">CompTest-2008x...</span><span class="t" style="left:11.5px;top:90px;font-size:4.3px;color:#666;transform:translateY(0.11px) rotate(0.03deg) scaleX(0.987);">CompTest-Vista...</span><span class="t" style="left:8.1px;top:97px;font-size:4.3px;color:#666;transform:translateY(0.78px) rotate(0.03deg) scaleX(0.975);">CompTest-W7x64...</span><span class="t" style="left:9.1px;top:105px;font-size:4.3px;color:#666;transform:translateY(0.45px) rotate(0.03deg) scaleX(0.966);">CompTest-2008R...</span><span class="t" style="left:82.4px;top:130px;font-size:4.7px;color:#555;transform:translateY(0.05px) rotate(0.03deg) scaleX(0.836);">Successful</span><span class="t" style="left:117px;top:130px;font-size:4.7px;color:#555;transform:translateY(0.05px) rotate(0.03deg) scaleX(0.906);">Failed</span><svg style="position:absolute;left:0px;top:0px" width="208" height="146" viewBox="0 0 208 146"><path d="M46.9 29.2V114.5" stroke="#e4e4e4" stroke-width="0.6"/><path d="M77.7 29.2V114.5" stroke="#e4e4e4" stroke-width="0.6"/><path d="M108.5 29.2V114.5" stroke="#e4e4e4" stroke-width="0.6"/><path d="M139.3 29.2V114.5" stroke="#e4e4e4" stroke-width="0.6"/><path d="M170.1 29.2V114.5" stroke="#e4e4e4" stroke-width="0.6"/><path d="M46.6 113.6H199" stroke="#dcdcdc" stroke-width="0.7"/><rect x="46.9" y="35.32" width="70.84" height="5.3" fill="#c8e09b"/><rect x="46.9" y="42.99" width="73.92" height="5.3" fill="#c8e09b"/><rect x="46.9" y="50.66" width="36.96" height="5.3" fill="#d2864f"/><rect x="83.86" y="50.66" width="33.88" height="5.3" fill="#f29a9c"/><rect x="46.9" y="58.33" width="36.96" height="5.3" fill="#7dbd16"/><rect x="83.86" y="58.33" width="3.08" height="5.3" fill="#c8e09b"/><rect x="46.9" y="66" width="36.96" height="5.3" fill="#c8e09b"/><rect x="46.9" y="73.67" width="77" height="5.3" fill="#c8e09b"/><rect x="46.9" y="81.34" width="36.96" height="5.3" fill="#a2cf50"/><rect x="83.86" y="81.34" width="40.04" height="5.3" fill="#c8e09b"/><rect x="46.9" y="89.01" width="77" height="5.3" fill="#d2864f"/><rect x="123.9" y="89.01" width="73.92" height="5.3" fill="#f29a9c"/><rect x="46.9" y="96.68" width="150.92" height="5.3" fill="#f29a9c"/><rect x="46.9" y="104.35" width="33.88" height="5.3" fill="#a2cf50"/><rect x="80.78" y="104.35" width="3.08" height="5.3" fill="#c8e09b"/><circle cx="75.7" cy="131.2" r="2.7" fill="none" stroke="#84b82a" stroke-width="0.6"/><path d="M74.6 131.3L75.4 132.1L76.9 130.3" fill="none" stroke="#84b82a" stroke-width="0.6"/><circle cx="110.6" cy="131.2" r="2.7" fill="none" stroke="#e2535a" stroke-width="0.6"/><path d="M109.75 130.35L111.45 132.05M111.45 130.35L109.75 132.05" fill="none" stroke="#e2535a" stroke-width="0.75"/><path d="M193.9 10.2L196.5 7.6L199.1 10.2" fill="none" stroke="#8c8c8c" stroke-width="0.9"/></svg></section>
<div style="position:absolute;left:91px;top:21px;width:3px;height:398px;background:linear-gradient(90deg,#77787a 0,#fbfbfb 0.6px,#fbfbfb 2.5px,#eeeeee 3px);"></div>
<div style="position:absolute;left:0px;top:419.3px;width:736px;height:1.7px;background:#3a3b3d;"></div>
<div style="position:absolute;left:734.6px;top:0px;width:1.4px;height:421px;background:#666769;"></div>
<div style="position:absolute;left:91px;top:419px;width:644px;height:0.6px;background:#bbb;"></div>
</body></html>
